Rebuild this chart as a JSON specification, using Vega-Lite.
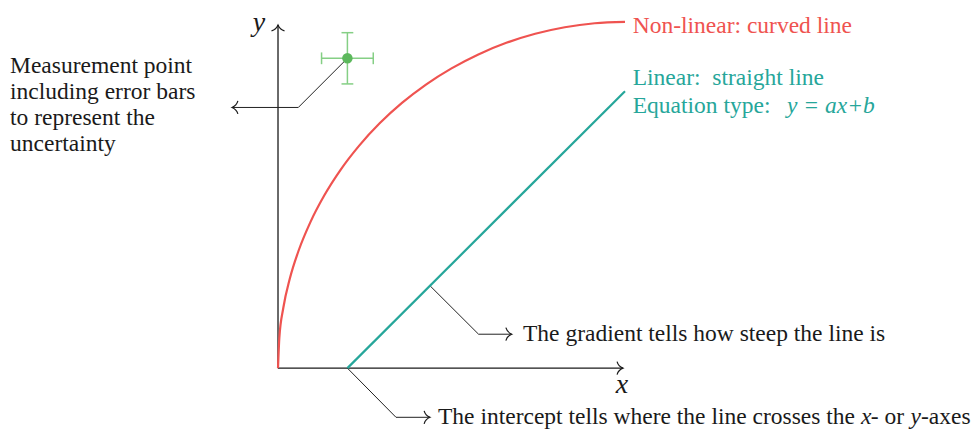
{
  "$schema": "https://vega.github.io/schema/vega-lite/v6.json",
  "width": 979,
  "height": 429,
  "padding": 0,
  "autosize": {"type": "fit", "contains": "padding"},
  "config": {"view": {"stroke": null}},
  "datasets": {
    "curve": [
      {"x": 0, "y": 0}, {"x": 0.038, "y": 0.872}, {"x": 0.152, "y": 1.736}, {"x": 0.341, "y": 2.588},
      {"x": 0.603, "y": 3.42}, {"x": 0.937, "y": 4.226}, {"x": 1.34, "y": 5.0}, {"x": 1.808, "y": 5.736},
      {"x": 2.34, "y": 6.428}, {"x": 2.929, "y": 7.071}, {"x": 3.572, "y": 7.66}, {"x": 4.264, "y": 8.192},
      {"x": 5.0, "y": 8.66}, {"x": 5.774, "y": 9.063}, {"x": 6.58, "y": 9.397}, {"x": 7.412, "y": 9.659},
      {"x": 8.264, "y": 9.848}, {"x": 9.128, "y": 9.962}, {"x": 10, "y": 10}
    ],
    "segs": [
      {"kind": "axis", "x": 0, "y": 0, "x2": 9.94, "y2": 0},
      {"kind": "axis", "x": 0, "y": 0, "x2": 0, "y2": 9.91},
      {"kind": "linear", "x": 2, "y": 0, "x2": 10, "y2": 8},
      {"kind": "leader", "x": 2, "y": 8.95, "x2": 0.585, "y2": 7.53},
      {"kind": "leader", "x": 0.585, "y": 7.53, "x2": -1.325, "y2": 7.53},
      {"kind": "leader", "x": 4.38, "y": 2.38, "x2": 5.78, "y2": 0.98},
      {"kind": "leader", "x": 5.78, "y": 0.98, "x2": 6.735, "y2": 0.98},
      {"kind": "leader", "x": 2, "y": 0, "x2": 3.4, "y2": -1.42},
      {"kind": "leader", "x": 3.4, "y": -1.42, "x2": 4.38, "y2": -1.42},
      {"kind": "error", "x": 1.255, "y": 8.95, "x2": 2.745, "y2": 8.95},
      {"kind": "error", "x": 2, "y": 8.21, "x2": 2, "y2": 9.69},
      {"kind": "error", "x": 1.255, "y": 8.78, "x2": 1.255, "y2": 9.12},
      {"kind": "error", "x": 2.745, "y": 8.78, "x2": 2.745, "y2": 9.12},
      {"kind": "error", "x": 1.83, "y": 8.21, "x2": 2.17, "y2": 8.21},
      {"kind": "error", "x": 1.83, "y": 9.69, "x2": 2.17, "y2": 9.69}
    ],
    "measure": [{"x": 2, "y": 8.95}],
    "tips": [
      {"dir": "right", "x": 9.94, "y": 0},
      {"dir": "up", "x": 0, "y": 9.91},
      {"dir": "left", "x": -1.325, "y": 7.53},
      {"dir": "right", "x": 6.735, "y": 0.98},
      {"dir": "right", "x": 4.38, "y": -1.42}
    ],
    "labels": [
      {"style": "upright", "tone": "ink", "x": -7.723, "y": 8.53, "text": "Measurement point\nincluding error bars\nto represent the\nuncertainty"},
      {"style": "upright", "tone": "red", "x": 10.222, "y": 9.683, "text": "Non-linear: curved line"},
      {"style": "upright", "tone": "teal", "x": 10.222, "y": 8.184, "text": "Linear:\u2002straight line"},
      {"style": "upright", "tone": "teal", "x": 10.222, "y": 7.38, "text": "Equation type:"},
      {"style": "italic", "tone": "teal", "x": 14.669, "y": 7.38, "text": "y = ax+b"},
      {"style": "upright", "tone": "ink", "x": 7.061, "y": 0.787, "text": "The gradient tells how steep the line is"},
      {"style": "upright", "tone": "ink", "x": 4.611, "y": -1.6, "text": "The intercept tells where the line crosses the"},
      {"style": "italic", "tone": "ink", "x": 16.801, "y": -1.6, "text": "x"},
      {"style": "upright", "tone": "ink", "x": 17.081, "y": -1.6, "text": "- or"},
      {"style": "italic", "tone": "ink", "x": 18.228, "y": -1.6, "text": "y"},
      {"style": "upright", "tone": "ink", "x": 18.53, "y": -1.6, "text": "-axes"}
    ],
    "axislabels": [
      {"x": -0.548, "y": 9.75, "text": "y"},
      {"x": 9.914, "y": -0.71, "text": "x"}
    ]
  },
  "encoding": {
    "x": {"field": "x", "type": "quantitative", "axis": null, "scale": {"domain": [-8.012, 20.202], "nice": false, "zero": false}},
    "y": {"field": "y", "type": "quantitative", "axis": null, "scale": {"domain": [-1.729, 10.634], "nice": false, "zero": false}}
  },
  "layer": [
    {
      "data": {"name": "segs"},
      "transform": [{"filter": "datum.kind === 'axis'"}],
      "mark": {"type": "rule", "color": "#1a1a1a", "strokeWidth": 1.3},
      "encoding": {"x2": {"field": "x2"}, "y2": {"field": "y2"}}
    },
    {
      "data": {"name": "segs"},
      "transform": [{"filter": "datum.kind === 'leader'"}],
      "mark": {"type": "rule", "color": "#222222", "strokeWidth": 1},
      "encoding": {"x2": {"field": "x2"}, "y2": {"field": "y2"}}
    },
    {
      "data": {"name": "curve"},
      "mark": {"type": "line", "color": "#ef5350", "strokeWidth": 2.2, "interpolate": "monotone"},
      "encoding": {}
    },
    {
      "data": {"name": "segs"},
      "transform": [{"filter": "datum.kind === 'linear'"}],
      "mark": {"type": "rule", "color": "#26a69a", "strokeWidth": 2.2},
      "encoding": {"x2": {"field": "x2"}, "y2": {"field": "y2"}}
    },
    {
      "data": {"name": "segs"},
      "transform": [{"filter": "datum.kind === 'error'"}],
      "mark": {"type": "rule", "color": "#85cf85", "strokeWidth": 1.5},
      "encoding": {"x2": {"field": "x2"}, "y2": {"field": "y2"}}
    },
    {
      "data": {"name": "measure"},
      "mark": {"type": "point", "shape": "circle", "filled": true, "color": "#5cb85c", "opacity": 1, "size": 110},
      "encoding": {}
    },
    {
      "data": {"name": "tips"},
      "transform": [{"filter": "datum.dir === 'right'"}],
      "mark": {"type": "point", "shape": "M -0.9 -1 C -0.75 -0.45 -0.3 -0.12 0 0 C -0.3 0.12 -0.75 0.45 -0.9 1", "filled": false, "stroke": "#1a1a1a", "strokeWidth": 1.2, "opacity": 1, "size": 169, "angle": 0},
      "encoding": {}
    },
    {
      "data": {"name": "tips"},
      "transform": [{"filter": "datum.dir === 'up'"}],
      "mark": {"type": "point", "shape": "M -0.9 -1 C -0.75 -0.45 -0.3 -0.12 0 0 C -0.3 0.12 -0.75 0.45 -0.9 1", "filled": false, "stroke": "#1a1a1a", "strokeWidth": 1.2, "opacity": 1, "size": 169, "angle": 270},
      "encoding": {}
    },
    {
      "data": {"name": "tips"},
      "transform": [{"filter": "datum.dir === 'left'"}],
      "mark": {"type": "point", "shape": "M -0.9 -1 C -0.75 -0.45 -0.3 -0.12 0 0 C -0.3 0.12 -0.75 0.45 -0.9 1", "filled": false, "stroke": "#1a1a1a", "strokeWidth": 1.2, "opacity": 1, "size": 169, "angle": 180},
      "encoding": {}
    },
    {
      "data": {"name": "labels"},
      "transform": [{"filter": "datum.style === 'upright'"}],
      "mark": {"type": "text", "font": "Liberation Serif", "fontSize": 23.5, "align": "left", "baseline": "alphabetic", "lineBreak": "\n", "lineHeight": 26},
      "encoding": {
        "text": {"field": "text"},
        "color": {"field": "tone", "type": "nominal", "legend": null, "scale": {"domain": ["ink", "red", "teal"], "range": ["#1a1a1a", "#ef5350", "#26a69a"]}}
      }
    },
    {
      "data": {"name": "labels"},
      "transform": [{"filter": "datum.style === 'italic'"}],
      "mark": {"type": "text", "font": "Liberation Serif", "fontStyle": "italic", "fontSize": 23.5, "align": "left", "baseline": "alphabetic"},
      "encoding": {
        "text": {"field": "text"},
        "color": {"field": "tone", "type": "nominal", "legend": null, "scale": {"domain": ["ink", "red", "teal"], "range": ["#1a1a1a", "#ef5350", "#26a69a"]}}
      }
    },
    {
      "data": {"name": "axislabels"},
      "mark": {"type": "text", "font": "Liberation Serif", "fontStyle": "italic", "fontSize": 28, "align": "center", "baseline": "alphabetic", "color": "#1a1a1a"},
      "encoding": {"text": {"field": "text"}}
    }
  ]
}
